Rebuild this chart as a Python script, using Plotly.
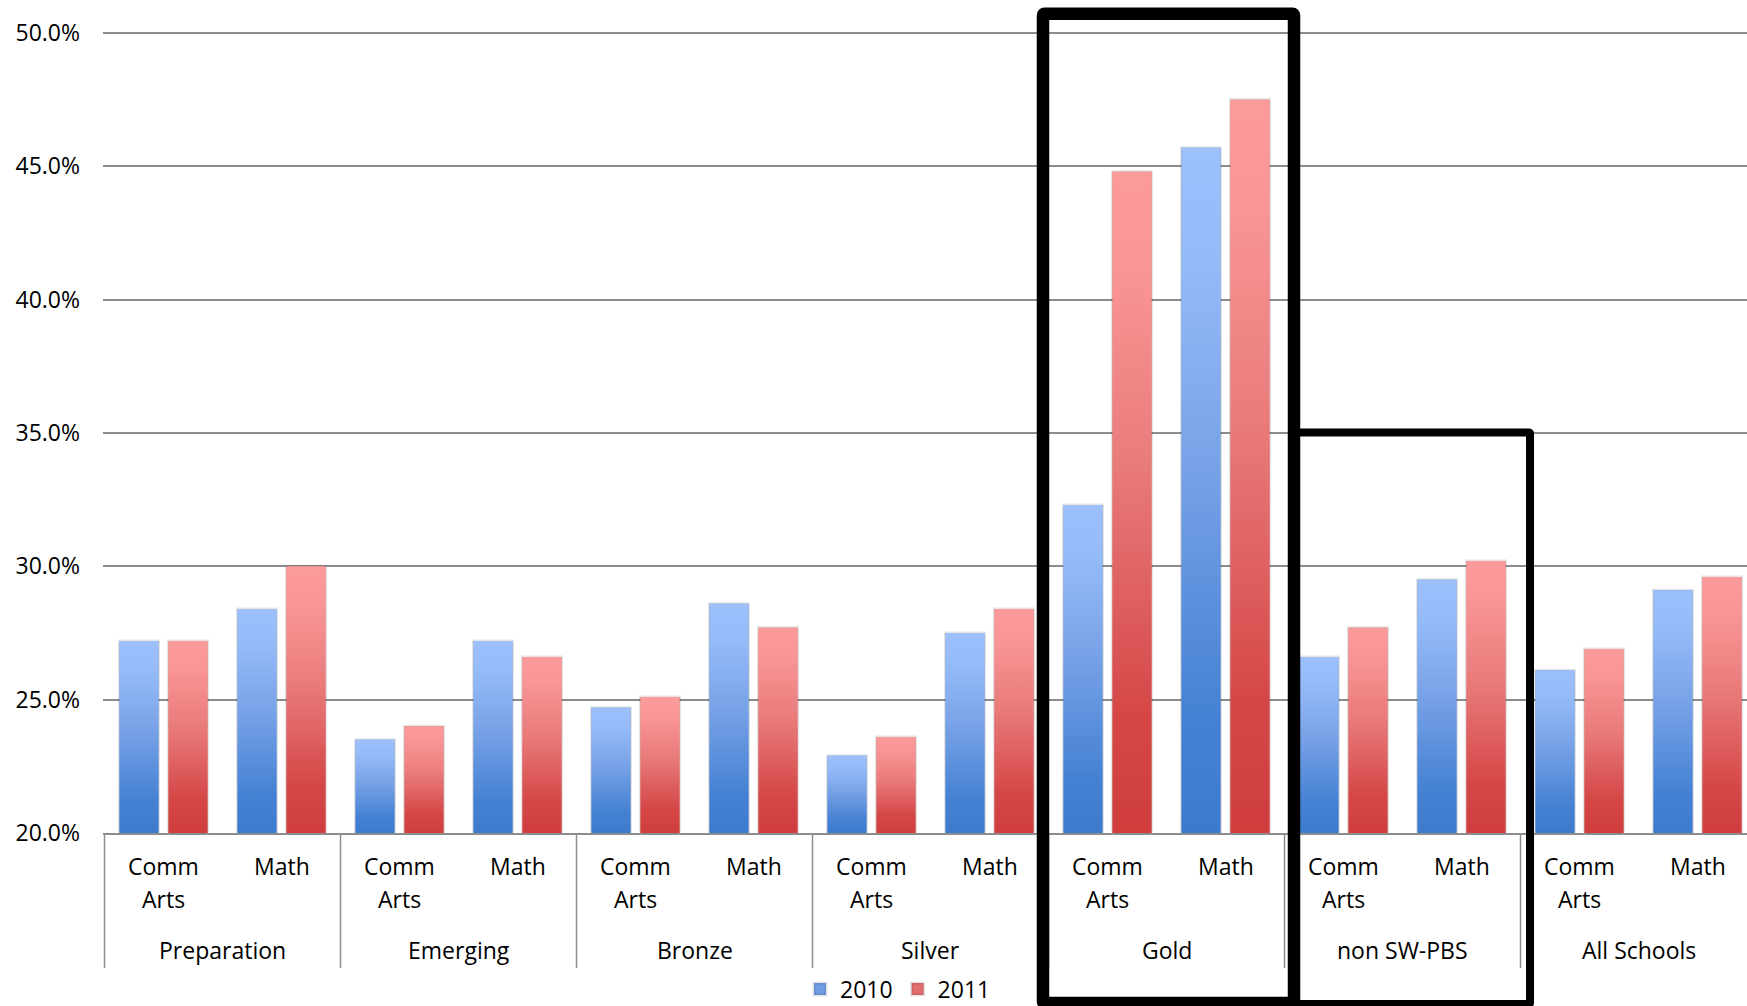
import plotly.graph_objects as go

# Proficiency rates by SW-PBS implementation level, subject and year
groups = ["Preparation", "Emerging", "Bronze", "Silver", "Gold", "non SW-PBS", "All Schools"]
subjects = ["Comm Arts", "Math"]
years = ["2010", "2011"]
values_2010 = [27.2, 28.4, 23.5, 27.2, 24.7, 28.6, 22.9, 27.5, 32.3, 45.7, 26.6, 29.5, 26.1, 29.1]
values_2011 = [27.2, 30.0, 24.0, 26.6, 25.1, 27.7, 23.6, 28.4, 44.8, 47.5, 27.7, 30.2, 26.9, 29.6]
y_ticks = [20, 25, 30, 35, 40, 45, 50]

# ---- geometry (pixels) ----
W, H = 1747, 1006
M_L, M_T, M_B = 103, 29, 173
PLOT_H = H - M_T - M_B            # 804
BOTTOM_PX = M_T + PLOT_H          # 833
PX_PER_UNIT = 800 / 30.0          # 5 % per 133.3 px
SLOT = 118.0                      # px per subject slot
BOUND0 = 104.5                    # px of first group boundary
X_MIN = -0.5 - (BOUND0 - M_L) / SLOT
X_MAX = -0.5 + (W - BOUND0) / SLOT
Y_MIN = 20
Y_TOP = Y_MIN + PLOT_H / PX_PER_UNIT

BAR_W = 39 / SLOT
BAR_SHIFT = 24.5 / SLOT
FONT = "Open Sans"
FS = 23

def py(px):
    """pixel row -> paper y"""
    return (BOTTOM_PX - px) / PLOT_H

n_groups, n_sub = len(groups), len(subjects)
positions = list(range(n_groups * n_sub))

series = [
    dict(name=years[0], vals=values_2010, offset=-BAR_SHIFT - BAR_W / 2,
         solid="#6F9DE4",
         scale=[[0, "#3C7BCC"], [0.18, "#4682D3"], [0.55, "#79A3E8"], [0.85, "#96BBF9"], [1, "#9BC0FC"]]),
    dict(name=years[1], vals=values_2011, offset=BAR_SHIFT - BAR_W / 2,
         solid="#E46E6E",
         scale=[[0, "#CF3D3D"], [0.18, "#D54747"], [0.55, "#E97A7A"], [0.85, "#F99595"], [1, "#FC9B9B"]]),
]

fig = go.Figure()

# Base bars (carry the data + legend entries)
for s in series:
    fig.add_trace(go.Bar(
        x=positions, y=[v - Y_MIN for v in s["vals"]], base=Y_MIN,
        width=BAR_W, offset=s["offset"], name=s["name"],
        marker=dict(color=s["solid"], line=dict(color="rgba(0,0,0,0.10)", width=3)),
        hoverinfo="skip",
    ))

# Vertical gradient shading over each bar
for s in series:
    for xi, v in zip(positions, s["vals"]):
        x0 = xi + s["offset"]
        x1 = x0 + BAR_W
        fig.add_trace(go.Scatter(
            x=[x0, x1, x1, x0, x0], y=[Y_MIN, Y_MIN, v, v, Y_MIN],
            mode="none", fill="toself",
            fillgradient=dict(type="vertical", colorscale=s["scale"], start=Y_MIN, stop=v),
            showlegend=False, hoverinfo="skip",
        ))

shapes = []
annotations = []

# Group dividers under the axis
for g in range(n_groups):
    xb = g * n_sub - 0.5
    shapes.append(dict(type="line", xref="x", yref="paper", x0=xb, x1=xb,
                       y0=0, y1=py(968), line=dict(color="#8C8C8C", width=1.5)))

# Subject labels (one word per line) and group labels
for g, gname in enumerate(groups):
    for k, sub in enumerate(subjects):
        xi = g * n_sub + k
        for j, word in enumerate(sub.split(" ")):
            annotations.append(dict(x=xi, y=py(866 + 33 * j), xref="x", yref="paper",
                                    text=word, showarrow=False, xanchor="center", yanchor="middle",
                                    font=dict(family=FONT, size=FS, color="#000")))
    annotations.append(dict(x=g * n_sub + (n_sub - 1) / 2, y=py(950), xref="x", yref="paper",
                            text=gname, showarrow=False, xanchor="center", yanchor="middle",
                            font=dict(family=FONT, size=FS, color="#000")))

def rounded_rect(x0, x1, y0, y1, r_px):
    rx, ry = r_px / SLOT, r_px / PLOT_H
    return (f"M{x0},{y0 + ry} L{x0},{y1 - ry} Q{x0},{y1} {x0 + rx},{y1} "
            f"L{x1 - rx},{y1} Q{x1},{y1} {x1},{y1 - ry} L{x1},{y0 + ry} "
            f"Q{x1},{y0} {x1 - rx},{y0} L{x0 + rx},{y0} Q{x0},{y0} {x0},{y0 + ry} Z")

def px_to_x(px):
    return -0.5 + (px - BOUND0) / SLOT

# Highlight boxes: non SW-PBS (thinner) and Gold (thicker, on top)
shapes.append(dict(type="path", xref="x", yref="paper", layer="above",
                   path=rounded_rect(px_to_x(1294), px_to_x(1530), py(1004), py(432.5), 1.5),
                   line=dict(color="#000", width=8)))
shapes.append(dict(type="path", xref="x", yref="paper", layer="above",
                   path=rounded_rect(px_to_x(1043), px_to_x(1294), py(1003), py(13.7), 1.5),
                   line=dict(color="#000", width=12.5)))

fig.update_layout(
    width=W, height=H,
    margin=dict(l=M_L, r=0, t=M_T, b=M_B, pad=0, autoexpand=False),
    paper_bgcolor="white", plot_bgcolor="white",
    barmode="overlay",
    font=dict(family=FONT, size=FS, color="#000"),
    showlegend=True,
    legend=dict(orientation="h", x=(898 - M_L) / (W - M_L), xanchor="center",
                y=py(989), yanchor="middle", font=dict(family=FONT, size=FS, color="#000"),
                bgcolor="rgba(0,0,0,0)", itemwidth=30, tracegroupgap=0,
                traceorder="normal", borderwidth=0),
    xaxis=dict(range=[X_MIN, X_MAX], showgrid=False, showticklabels=False, ticks="",
               zeroline=False, showline=True, linecolor="#8C8C8C", linewidth=1.5, fixedrange=True),
    yaxis=dict(range=[Y_MIN, Y_TOP], tickvals=y_ticks,
               ticktext=[f"{t:.1f}%" for t in y_ticks], showgrid=True, gridcolor="#8C8C8C",
               gridwidth=1.5, zeroline=False, showline=False, ticks="",
               ticklabelstandoff=22, tickfont=dict(family=FONT, size=FS, color="#000")),
    shapes=shapes,
    annotations=annotations,
)

fig.write_html("out.html")
